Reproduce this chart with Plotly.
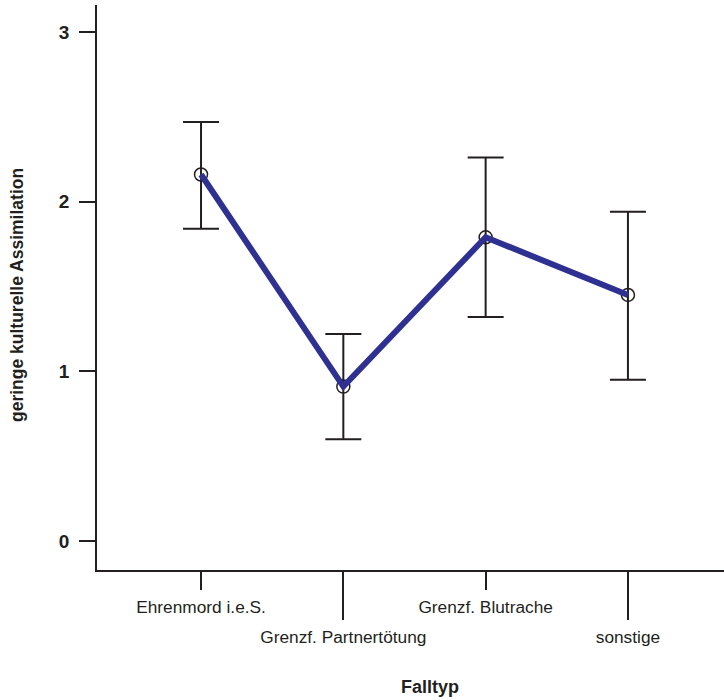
import plotly.graph_objects as go

categories = ["Ehrenmord i.e.S.", "Grenzf. Partnertötung", "Grenzf. Blutrache", "sonstige"]
means = [2.16, 0.91, 1.79, 1.45]
upper = [2.47, 1.22, 2.26, 1.94]
lower = [1.84, 0.60, 1.32, 0.95]
y_ticks = [0, 1, 2, 3]

xpos = list(range(len(categories)))
err_plus = [u - m for u, m in zip(upper, means)]
err_minus = [m - l for m, l in zip(means, lower)]

FONT = "Liberation Sans, Arial, sans-serif"
INK = "#231f20"

fig = go.Figure()
fig.add_trace(go.Scatter(
    x=xpos, y=means, mode="markers",
    marker=dict(symbol="circle-open", size=13, color=INK, line=dict(width=1.5, color=INK)),
    error_y=dict(type="data", symmetric=False, array=err_plus, arrayminus=err_minus,
                 color=INK, thickness=2, width=18),
    showlegend=False, hoverinfo="skip",
))
fig.add_trace(go.Scatter(
    x=xpos, y=means, mode="lines",
    line=dict(color="#2e3192", width=6),
    showlegend=False,
))
fig.add_trace(go.Scatter(x=xpos, y=means, mode="none", xaxis="x2", showlegend=False, hoverinfo="skip"))

xr = [-0.731, 3.675]
fig.update_layout(
    width=724, height=700,
    margin=dict(l=97, r=0, t=5, b=130, autoexpand=False),
    paper_bgcolor="white", plot_bgcolor="white",
    font=dict(family=FONT, color=INK, size=17),
    xaxis=dict(
        range=xr, tickmode="array", tickvals=[0, 2],
        ticktext=[categories[0], categories[2]],
        ticks="outside", ticklen=18, tickwidth=1.5, tickcolor=INK,
        showline=True, linecolor=INK, linewidth=1.5, showgrid=False, zeroline=False,
        tickfont=dict(family=FONT, size=17.3, color=INK),
        ticklabelstandoff=2, automargin=False,
    ),
    xaxis2=dict(
        range=xr, overlaying="x", side="bottom", matches="x", tickmode="array", tickvals=[1, 3],
        ticktext=[categories[1], categories[3]],
        ticks="outside", ticklen=49, tickwidth=1.5, tickcolor=INK,
        showline=False, showgrid=False, zeroline=False,
        tickfont=dict(family=FONT, size=17.3, color=INK),
        ticklabelstandoff=2, automargin=False,
    ),
    yaxis=dict(
        range=[-0.171, 3.159], tickmode="array", tickvals=y_ticks,
        ticktext=[f"<b>{v}</b>" for v in y_ticks],
        ticks="outside", ticklen=16, tickwidth=1.5, tickcolor=INK,
        showline=True, linecolor=INK, linewidth=1.5, showgrid=False, zeroline=False,
        tickfont=dict(family=FONT, size=19, color=INK),
        ticklabelstandoff=6, automargin=False,
    ),
    annotations=[
        dict(text="<b>Falltyp</b>", xref="paper", yref="paper", x=(430 - 97) / 627, y=-(687 - 570) / 565,
             xanchor="center", yanchor="middle", showarrow=False,
             font=dict(family=FONT, size=18, color=INK)),
        dict(text="<b>geringe kulturelle Assimilation</b>", xref="paper", yref="paper",
             x=-(97 - 17) / 627, y=(570 - 295) / 565, textangle=-90,
             xanchor="center", yanchor="middle", showarrow=False,
             font=dict(family=FONT, size=17.5, color=INK)),
    ],
)
fig.write_html("out.html", config={"displayModeBar": False},
               post_script="document.body.style.margin='0';")
